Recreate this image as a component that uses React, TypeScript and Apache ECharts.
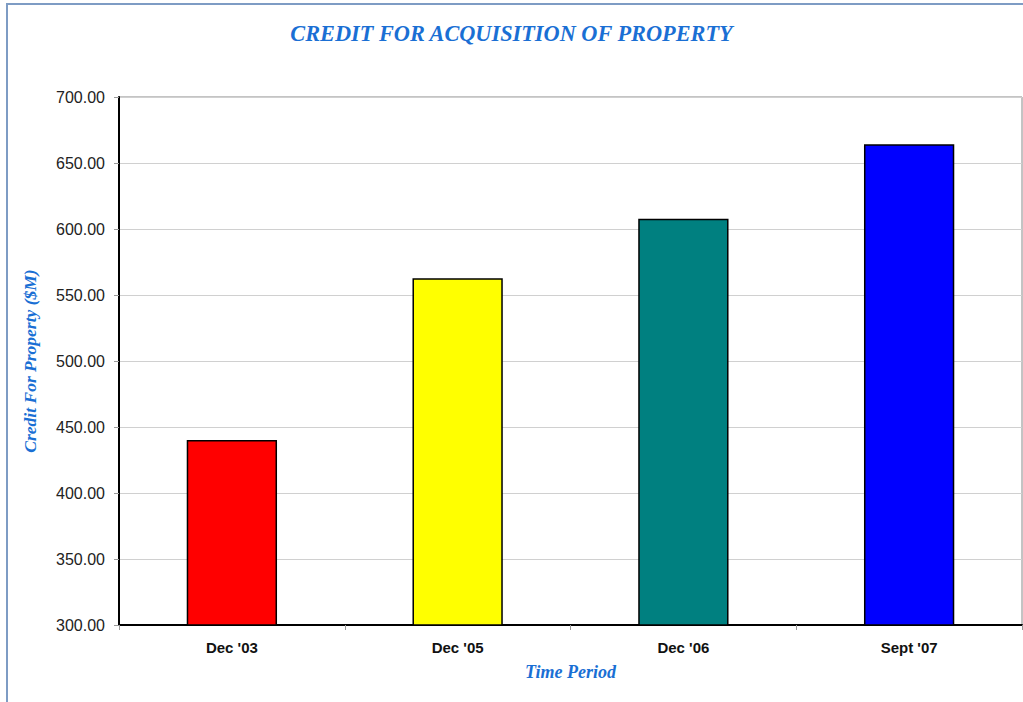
import React, { useEffect, useRef } from "react";
import * as echarts from "echarts";

const categories = ["Dec '03", "Dec '05", "Dec '06", "Sept '07"];
const values = [440.2, 562.7, 607.8, 664.2];
const barColors = ["#ff0000", "#ffff00", "#008080", "#0000ff"];
const yTicks = { min: 300, max: 700, interval: 50 };

const titleText = "CREDIT FOR ACQUISITION OF PROPERTY";
const yName = "Credit For Property ($M)";
const xName = "Time Period";
const blue = "#1a6fd4";
const serif = "'Liberation Serif', 'DejaVu Serif', serif";
const sans = "'Liberation Sans', Arial, sans-serif";

export default function App() {
  const ref = useRef<HTMLDivElement>(null);
  useEffect(() => {
    document.body.style.margin = "0";
    const chart = echarts.init(ref.current!, null, { renderer: "svg" });
    chart.setOption({
      animation: false,
      backgroundColor: "#ffffff",
      title: {
        text: titleText,
        left: "center",
        top: 17,
        textStyle: {
          fontFamily: serif,
          fontStyle: "italic",
          fontWeight: "bold",
          fontSize: 22.3,
          color: blue,
        },
      },
      graphic: [
        {
          type: "rect",
          shape: { x: 7, y: 4, width: 1200, height: 900 },
          style: { fill: "none", stroke: "#7e9cc4", lineWidth: 2 },
          silent: true,
          z: 100,
        },
      ],
      grid: {
        left: 119,
        top: 97,
        right: 1,
        bottom: 77,
        show: true,
        borderColor: "#888888",
        borderWidth: 1,
        backgroundColor: "#ffffff",
      },
      xAxis: {
        type: "category",
        data: categories,
        name: xName,
        nameLocation: "middle",
        nameGap: 38,
        nameTextStyle: {
          fontFamily: serif,
          fontStyle: "italic",
          fontWeight: "bold",
          fontSize: 18,
          color: blue,
        },
        axisLine: { lineStyle: { color: "#000000", width: 2 } },
        axisTick: { show: true, length: 5, lineStyle: { color: "#999999" } },
        axisLabel: {
          fontFamily: sans,
          fontWeight: "bold",
          fontSize: 15,
          color: "#111111",
          margin: 15,
        },
      },
      yAxis: {
        type: "value",
        min: yTicks.min,
        max: yTicks.max,
        interval: yTicks.interval,
        name: yName,
        nameLocation: "middle",
        nameGap: 80,
        nameTextStyle: {
          fontFamily: serif,
          fontStyle: "italic",
          fontWeight: "bold",
          fontSize: 17.5,
          color: blue,
        },
        axisLine: { show: true, lineStyle: { color: "#000000", width: 2 } },
        axisTick: { show: true, length: 5, lineStyle: { color: "#999999" } },
        axisLabel: {
          fontFamily: sans,
          fontSize: 16,
          color: "#222222",
          margin: 14,
          formatter: (v: number) => v.toFixed(2),
        },
        splitLine: { lineStyle: { color: "#d0d0d0", width: 1 } },
      },
      series: [
        {
          type: "bar",
          data: values.map((v, i) => ({
            value: v,
            itemStyle: { color: barColors[i] },
          })),
          barCategoryGap: "60%",
          itemStyle: { borderColor: "#000000", borderWidth: 1.5 },
        },
      ],
    });
    return () => chart.dispose();
  }, []);
  return <div ref={ref} style={{ width: 1023, height: 702 }} />;
}
